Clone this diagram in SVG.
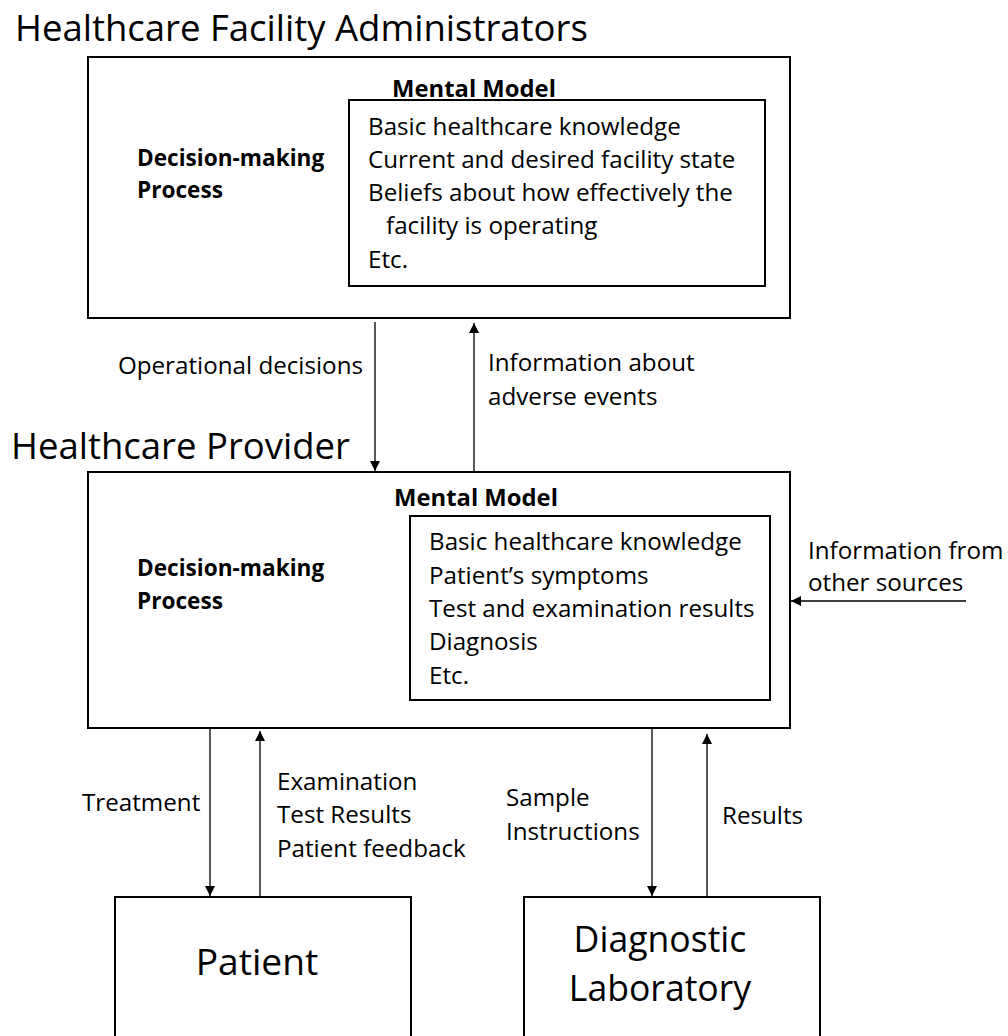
<svg xmlns="http://www.w3.org/2000/svg" width="1008" height="1036" viewBox="0 0 1008 1036">
<style>
text{font-family:"Open Sans","Liberation Sans",sans-serif;fill:#000}
.t{font-size:24.2px}
.b{font-size:22.6px;font-weight:bold}
.m{font-size:23.8px;font-weight:bold}
.h{font-size:36.5px}
.n{font-size:35.6px}
.p{font-size:37.2px}
.box{fill:#fff;stroke:#000;stroke-width:2}
.ln{stroke:#000;stroke-width:1.3;fill:none}
</style>
<defs>
<marker id="ah" viewBox="0 0 10 10" refX="10" refY="5" markerWidth="10" markerHeight="10" markerUnits="userSpaceOnUse" orient="auto">
<path d="M0,0 L10,5 L0,10 z" fill="#000"/>
</marker>
</defs>
<rect width="1008" height="1036" fill="#fff"/>
<g id="admin">
<text class="h" x="15" y="41">Healthcare Facility Administrators</text>
<rect class="box" x="88" y="57" width="702" height="261"/>
<text class="m" x="474" y="97" text-anchor="middle">Mental Model</text>
<rect class="box" x="349" y="100" width="416" height="186"/>
<text class="t" x="368" y="135">Basic healthcare knowledge</text>
<text class="t" x="368" y="168">Current and desired facility state</text>
<text class="t" x="368" y="201">Beliefs about how effectively the</text>
<text class="t" x="386" y="234">facility is operating</text>
<text class="t" x="368" y="268">Etc.</text>
<text class="b" x="137" y="166">Decision-making</text>
<text class="b" x="137" y="198">Process</text>
</g>
<g id="provider">
<text class="h" x="11" y="459">Healthcare Provider</text>
<rect class="box" x="88" y="472" width="702" height="256"/>
<text class="m" x="476" y="506" text-anchor="middle">Mental Model</text>
<rect class="box" x="410" y="516" width="360" height="184"/>
<text class="t" x="429" y="550">Basic healthcare knowledge</text>
<text class="t" x="429" y="584">Patient’s symptoms</text>
<text class="t" x="429" y="617">Test and examination results</text>
<text class="t" x="429" y="650">Diagnosis</text>
<text class="t" x="429" y="684">Etc.</text>
<text class="b" x="137" y="576">Decision-making</text>
<text class="b" x="137" y="609">Process</text>
</g>
<g id="patient">
<rect class="box" x="115" y="897" width="296" height="150"/>
<text class="p" x="257" y="975" text-anchor="middle">Patient</text>
</g>
<g id="lab">
<rect class="box" x="524" y="897" width="296" height="150"/>
<text class="n" x="660" y="952" text-anchor="middle">Diagnostic</text>
<text class="n" x="660" y="1001" text-anchor="middle">Laboratory</text>
</g>
<g id="connectors">
<line class="ln" x1="375" y1="322" x2="375" y2="471" marker-end="url(#ah)"/>
<line class="ln" x1="474" y1="472" x2="474" y2="323" marker-end="url(#ah)"/>
<line class="ln" x1="966" y1="601" x2="791" y2="601" marker-end="url(#ah)"/>
<line class="ln" x1="210" y1="729" x2="210" y2="896" marker-end="url(#ah)"/>
<line class="ln" x1="260" y1="897" x2="260" y2="731" marker-end="url(#ah)"/>
<line class="ln" x1="652" y1="729" x2="652" y2="896" marker-end="url(#ah)"/>
<line class="ln" x1="707" y1="898" x2="707" y2="734" marker-end="url(#ah)"/>
<text class="t" x="363" y="374" text-anchor="end">Operational decisions</text>
<text class="t" x="488" y="371">Information about</text>
<text class="t" x="488" y="405">adverse events</text>
<text class="t" x="808" y="559">Information from</text>
<text class="t" x="808" y="591">other sources</text>
<text class="t" x="82" y="811">Treatment</text>
<text class="t" x="277" y="790">Examination</text>
<text class="t" x="277" y="823">Test Results</text>
<text class="t" x="277" y="857">Patient feedback</text>
<text class="t" x="506" y="806">Sample</text>
<text class="t" x="506" y="840">Instructions</text>
<text class="t" x="722" y="824">Results</text>
</g>
</svg>
